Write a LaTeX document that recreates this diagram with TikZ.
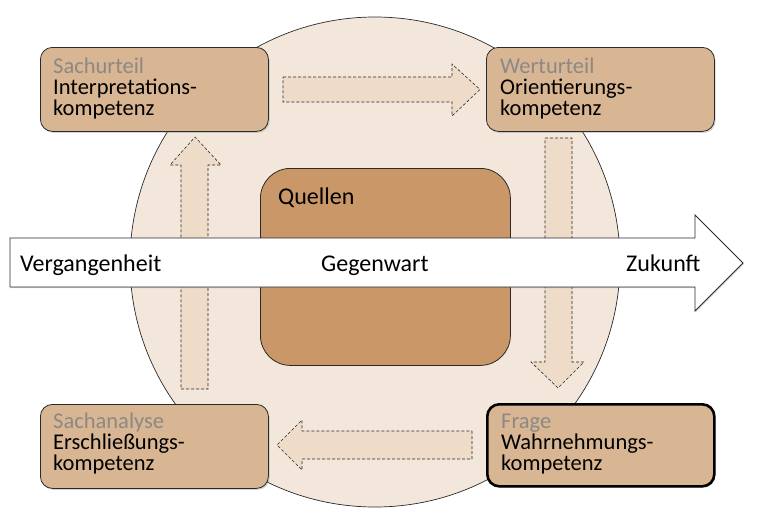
\documentclass[tikz,border=0pt]{standalone}
\usepackage{fontspec}
\setmainfont{Carlito}
\usetikzlibrary{shadows}
\definecolor{circfill}{HTML}{F3E7DB}
\definecolor{boxfill}{HTML}{D9B693}
\definecolor{srcfill}{HTML}{C99768}
\definecolor{dashfill}{HTML}{EEDBC8}
\definecolor{graytxt}{HTML}{8C8886}
\definecolor{edge}{HTML}{2A2A2A}
\begin{document}
\begin{tikzpicture}[x=1pt,y=-1pt,
  compbox/.style={draw=edge, line width=0.8pt, fill=boxfill, rounded corners=12pt,
    minimum width=228pt, minimum height=84pt, anchor=north west, inner sep=0pt,
    drop shadow={shadow xshift=1.2pt, shadow yshift=-1.5pt, opacity=0.35}},
  boxtext/.style={anchor=base west, align=left, inner sep=0pt,
    font=\fontsize{22.5}{21}\selectfont},
  timetext/.style={anchor=base west, inner sep=0pt, font=\fontsize{24}{26}\selectfont},
  dasharrow/.style={draw=edge, fill=dashfill, dashed, dash pattern=on 3pt off 2pt, line width=0.6pt, line join=miter}
]
\useasboundingbox (0,0) rectangle (766,517);
% circle
\draw[fill=circfill, draw=edge, line width=0.7pt] (375,262) circle[radius=245];
% Quellen box
\node[draw=edge, line width=0.8pt, fill=srcfill, rounded corners=30pt, anchor=north west,
  minimum width=250pt, minimum height=197pt, inner sep=0pt] (quellen) at (260,168) {};
\node[timetext] (quellentext) at (278,204) {Quellen};
% dashed block arrows
\draw[dasharrow] (283,77) -- (452,77) -- (452,64) -- (480,89.5) -- (452,116) -- (452,102) -- (283,102) -- cycle;
\draw[dasharrow] (545,138) -- (572,138) -- (572,362) -- (584,362) -- (558,388) -- (531,362) -- (545,362) -- cycle;
\draw[dasharrow] (472,431) -- (472,459) -- (302,459) -- (302,470) -- (277,445) -- (302,420) -- (302,431) -- cycle;
\draw[dasharrow] (181,389) -- (208,389) -- (208,165) -- (221,165) -- (195,137) -- (170,165) -- (181,165) -- cycle;
% time arrow
\draw[fill=white, draw=edge, line width=0.8pt, line join=miter,
  drop shadow={shadow xshift=1pt, shadow yshift=-1.2pt, opacity=0.3}]
  (10,238) -- (695,238) -- (695,215) -- (743,263) -- (695,311) -- (695,287) -- (10,287) -- cycle;
\node[timetext] (vergangenheit) at (20,271) {Vergangenheit};
\node[timetext] (gegenwart) at (321,271) {Gegenwart};
\node[timetext] (zukunft) at (626,271) {Zukunft};
% competence boxes
\node[compbox] (sachurteil) at (40,47) {};
\node[compbox] (werturteil) at (486,47) {};
\node[compbox, line width=2.6pt, draw=black, minimum width=227pt, minimum height=82pt] (frage) at (486,403) {};
\node[compbox] (sachanalyse) at (40,404) {};
\node[boxtext] (t1) at (53,115) {\textcolor{graytxt}{Sachurteil}\\Interpretations-\\kompetenz};
\node[boxtext] (t2) at (500,115) {\textcolor{graytxt}{Werturteil}\\Orientierungs-\\kompetenz};
\node[boxtext] (t3) at (501,470) {\textcolor{graytxt}{Frage}\\Wahrnehmungs-\\kompetenz};
\node[boxtext] (t4) at (53,470) {\textcolor{graytxt}{Sachanalyse}\\Erschließungs-\\kompetenz};
\end{tikzpicture}
\end{document}
